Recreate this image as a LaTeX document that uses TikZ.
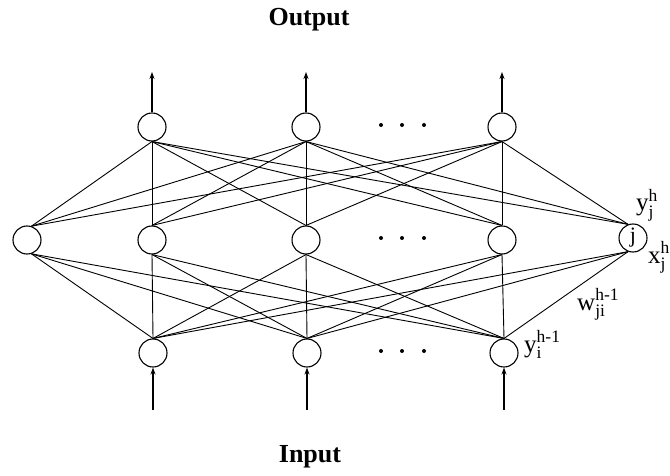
\documentclass[tikz,border=0pt]{standalone}
\usepackage{amsmath}
\usepackage{fontspec}
\setmainfont{Liberation Serif}
\usepackage{tikz}
\usetikzlibrary{positioning, arrows.meta}

\begin{document}
\begin{tikzpicture}[
  x=1pt, y=-1pt,
  unit/.style={draw, circle, line width=1.1pt, minimum size=28pt, inner sep=0pt,
    font=\fontsize{22}{24}\selectfont},
  link/.style={line width=0.9pt},
  io/.style={line width=1.1pt, -{Stealth[length=7pt, width=5pt]}},
  lbl/.style={font=\fontsize{25}{27}\selectfont, inner sep=0pt},
  head/.style={font=\fontsize{26}{28}\selectfont\bfseries},
  dot/.style={fill, circle, minimum size=4pt, inner sep=0pt}
]
\useasboundingbox (0,0) rectangle (670,476);

% top layer
\node[unit] (t1) at (152,127) {};
\node[unit] (t2) at (306,127) {};
\node[unit] (t3) at (502,127) {};

% hidden layer
\node[unit] (m0) at (27,240) {};
\node[unit] (m1) at (152,240) {};
\node[unit] (m2) at (306,240) {};
\node[unit] (m3) at (502,240) {};
\node[unit] (m4) at (633,238) {j};

% bottom layer
\node[unit] (b1) at (153,353) {};
\node[unit] (b2) at (307,353) {};
\node[unit] (b3) at (504,353) {};

% dots
\foreach \y in {125,238,351}
  \foreach \x in {381,402,424}
    \node[dot] at (\x,\y) {};

% weights
\foreach \t in {t1,t2,t3}
  \foreach \m/\a in {m0/72,m1/90,m2/90,m3/90,m4/110}
    \draw[link] (\t.south) -- (\m.\a);
\foreach \b in {b1,b2,b3}
  \foreach \m/\a in {m0/-72,m1/-90,m2/-90,m3/-90,m4/-110}
    \draw[link] (\m.\a) -- (\b.north);

% in and out
\coordinate (o1) at (152,72);
\coordinate (o2) at (306,72);
\coordinate (o3) at (502,72);
\coordinate (i1) at (153,410);
\coordinate (i2) at (307,410);
\coordinate (i3) at (504,410);
\draw[io] (t1.north) -- (o1);
\draw[io] (t2.north) -- (o2);
\draw[io] (t3.north) -- (o3);
\draw[io] (i1) -- (b1.south);
\draw[io] (i2) -- (b2.south);
\draw[io] (i3) -- (b3.south);

% labels
\node[lbl, anchor=base west] (yjh) at (636,211) {$\text{y}_{\text{j}}^{\text{h}}$};
\node[lbl, anchor=base west] (xjh) at (648,263) {$\text{x}_{\text{j}}^{\text{h}}$};
\node[lbl, anchor=base west] (wji) at (577,310) {$\text{w}_{\text{ji}}^{\text{h-1}}$};
\node[lbl, anchor=base west] (yih) at (524,352) {$\text{y}_{\text{i}}^{\text{h-1}}$};

\node[head] (out) at (309,20) {Output};
\node[head] (in) at (310,457) {Input};

\end{tikzpicture}
\end{document}
